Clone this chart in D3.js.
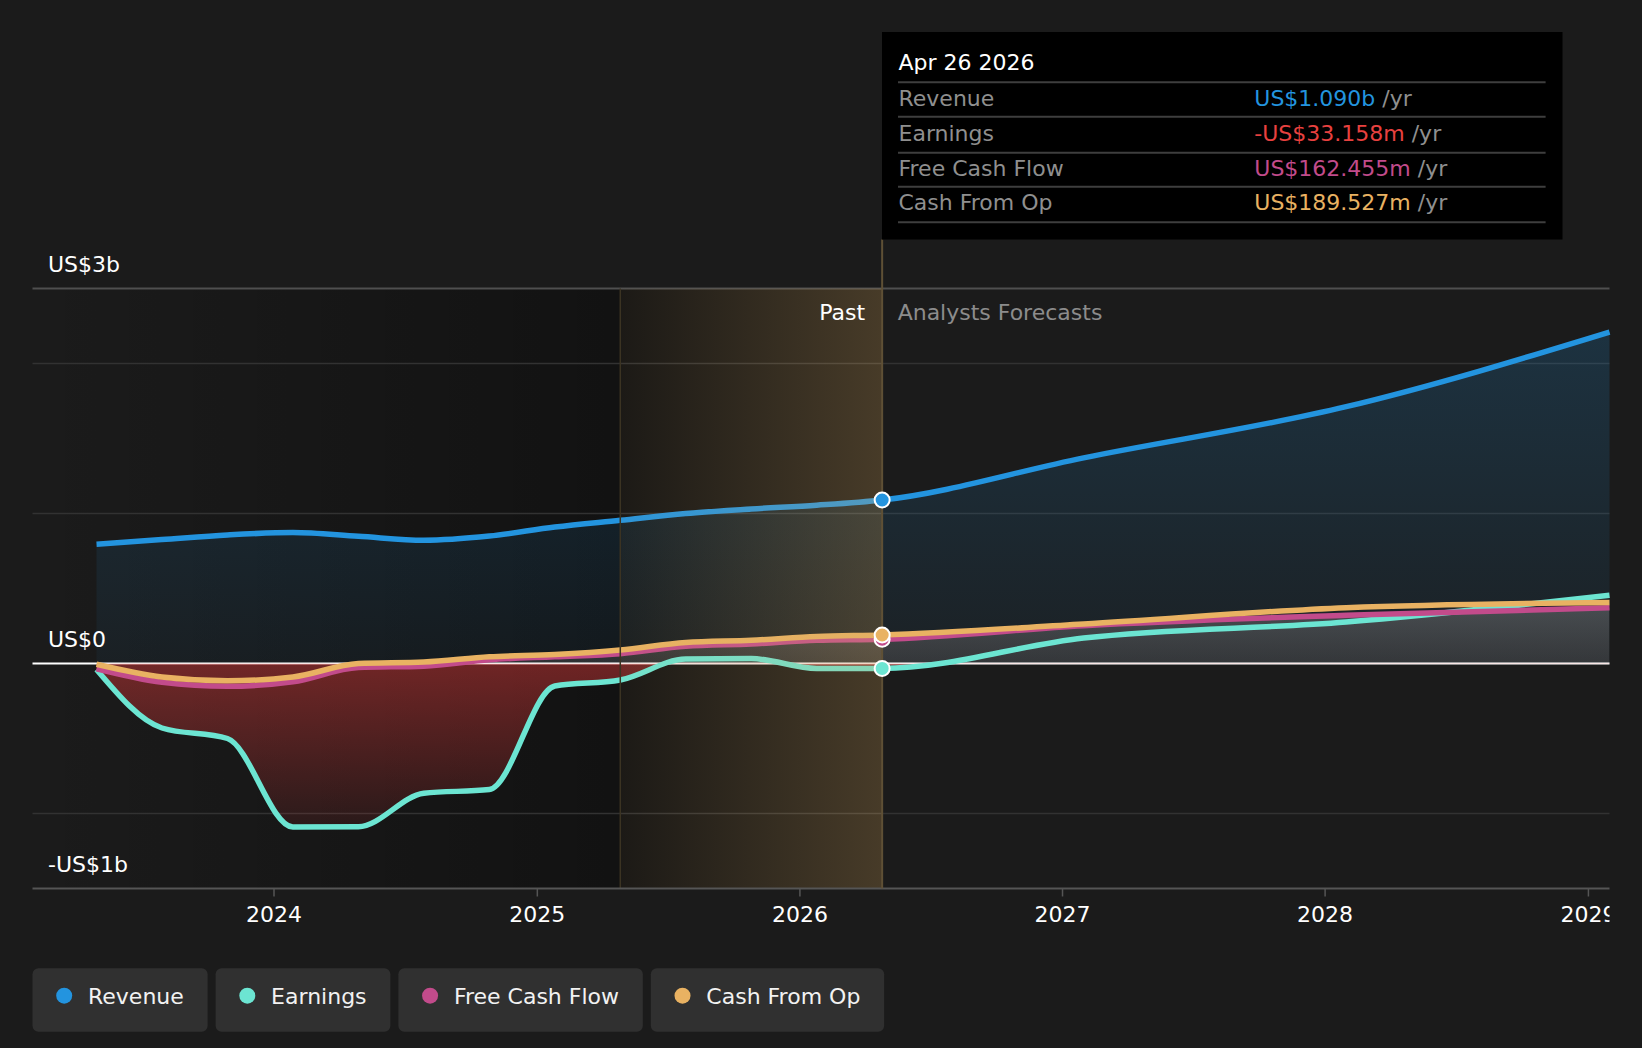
<!DOCTYPE html>
<html><head><meta charset="utf-8">
<script src="https://cdn.jsdelivr.net/npm/d3@7"></script>
<style>
html,body{margin:0;padding:0;background:#1b1b1b;}
svg{display:block;font-family:"DejaVu Sans",sans-serif;}
</style></head><body>
<svg id="chart" width="1642" height="1048"></svg>
<script>
// ---------- data (values in US$ billions) ----------
const pastDates = ["2023-04-30","2023-07-30","2023-10-29","2024-01-28","2024-04-28","2024-07-28","2024-10-27","2025-01-26","2025-04-27","2025-07-27","2025-10-26","2026-01-25","2026-04-26"];
const forecastDates = ["2027-01-31","2028-01-31","2029-01-31"];
const revenuePast = [0.795,0.826,0.857,0.873,0.848,0.822,0.850,0.910,0.955,1.000,1.030,1.055,1.090];
const revenueForecast = [1.371,1.712,2.210];
const earningsPast = [-0.040,-0.430,-0.500,-1.090,-1.088,-0.865,-0.840,-0.150,-0.110,0.030,0.033,-0.033,-0.033];
const earningsForecast = [0.170,0.277,0.455];
const fcfPast = [-0.035,-0.125,-0.152,-0.122,-0.027,-0.018,0.025,0.045,0.065,0.115,0.130,0.155,0.162];
const fcfForecast = [0.252,0.322,0.371];
const cfoPast = [-0.005,-0.090,-0.115,-0.090,0.000,0.010,0.045,0.060,0.090,0.140,0.155,0.180,0.190];
const cfoForecast = [0.263,0.372,0.407];

const seriesNames = ["Revenue","Earnings","Free Cash Flow","Cash From Op"];
const seriesColors = ["#2394df","#6ce5d2","#c24b8b","#e9b262"];

const yLabelValues = [2.5, 0, -1.5];
const yLabelTexts = ["US$3b","US$0","-US$1b"];
const gridValues = [2, 1, -1];
const xTickYears = [2024,2025,2026,2027,2028,2029];

const domainStart = "2023-01-31", domainEnd = "2029-01-31";
const highlightStart = "2025-04-27";
const presentDate = "2026-04-26";

const tooltipDate = "Apr 26 2026";
const tooltipLabels = ["Revenue","Earnings","Free Cash Flow","Cash From Op"];
const tooltipValues = ["US$1.090b","-US$33.158m","US$162.455m","US$189.527m"];
const tooltipValueColors = ["#2394df","#e8413f","#c24b8b","#e9b262"];

// ---------- setup ----------
const FONT = 22;
const svg = d3.select("#chart");
const M = {left:32.5, right:1609.5, top:288.5, bottom:888.5};
const parse = d3.utcParse("%Y-%m-%d");
const x = d3.scaleUtc().domain([parse(domainStart), parse(domainEnd)]).range([M.left, M.right]);
const y = d3.scaleLinear().domain([-1.5, 2.5]).range([M.bottom, M.top]);

const allDates = [...pastDates, ...forecastDates].map(parse);
function build(p, f){ return allDates.map((d,i)=>({d, v: i < p.length ? p[i] : f[i-p.length]})); }
const revenue = build(revenuePast, revenueForecast);
const earnings = build(earningsPast, earningsForecast);
const fcf = build(fcfPast, fcfForecast);
const cfo = build(cfoPast, cfoForecast);
const seriesData = [revenue, earnings, fcf, cfo];

const xHL = x(parse(highlightStart));
const xNow = x(parse(presentDate));

// ---------- defs ----------
const defs = svg.append("defs");
function lg(id, attrs, stops){
  const g = defs.append("linearGradient").attr("id", id).attr("gradientUnits","userSpaceOnUse");
  Object.entries(attrs).forEach(([k,v])=>g.attr(k,v));
  stops.forEach(s=>g.append("stop").attr("offset",s[0]).attr("stop-color",s[1]).attr("stop-opacity",s[2]));
}
lg("pastShade",{x1:M.left,x2:xHL,y1:0,y2:0},[[0,"#000",0],[1,"#000",0.34]]);
lg("hlGrad",{x1:xHL,x2:xNow,y1:0,y2:0},[[0,"rgb(215,170,100)",0.05],[1,"rgb(215,170,100)",0.27]]);
lg("revGrad",{x1:0,x2:0,y1:y(2.5),y2:y(0)},[[0,"#2394df",0.21],[1,"#2394df",0.05]]);
lg("redGrad",{x1:0,x2:0,y1:y(0),y2:y(-1.1)},[[0,"rgb(210,55,55)",0.48],[1,"rgb(210,55,55)",0.1]]);
lg("grayGrad",{x1:0,x2:0,y1:y(0.42),y2:y(0)},[[0,"rgb(150,150,150)",0.38],[1,"rgb(150,140,140)",0.2]]);
defs.append("clipPath").attr("id","belowZero").append("rect")
  .attr("x",M.left).attr("y",y(0)).attr("width",M.right-M.left).attr("height",M.bottom-y(0));
defs.append("clipPath").attr("id","aboveZero").append("rect")
  .attr("x",M.left).attr("y",M.top).attr("width",M.right-M.left).attr("height",y(0)-M.top);
defs.append("clipPath").attr("id","plotX").append("rect")
  .attr("x",0).attr("y",0).attr("width",M.right).attr("height",1048);

// ---------- background ----------
svg.append("rect").attr("width",1642).attr("height",1048).attr("fill","#1b1b1b");
svg.append("rect").attr("x",M.left).attr("y",M.top).attr("width",xNow-M.left).attr("height",M.bottom-M.top)
  .attr("fill","url(#pastShade)");

// gridlines
svg.append("g").selectAll("line").data(gridValues).join("line")
  .attr("x1",M.left).attr("x2",M.right).attr("y1",d=>y(d)).attr("y2",d=>y(d))
  .attr("stroke","#323232").attr("stroke-width",1.3);
svg.append("line").attr("x1",M.left).attr("x2",M.right).attr("y1",y(2.5)).attr("y2",y(2.5))
  .attr("stroke","#4f4f4f").attr("stroke-width",1.8);

// ---------- areas ----------
const curve = d3.curveMonotoneX;
const area = d3.area().curve(curve).x(d=>x(d.d)).y0(y(0)).y1(d=>y(d.v));
svg.append("path").datum(revenue).attr("d",area).attr("fill","url(#revGrad)");
svg.append("path").datum(fcf).attr("d",area).attr("fill","url(#grayGrad)").attr("clip-path","url(#aboveZero)");

// zero line
svg.append("line").attr("x1",M.left).attr("x2",M.right).attr("y1",y(0)).attr("y2",y(0))
  .attr("stroke","#ffffff").attr("stroke-width",2);

svg.append("path").datum(earnings).attr("d",area).attr("fill","url(#redGrad)").attr("clip-path","url(#belowZero)");

// ---------- lines ----------
const line = d3.line().curve(curve).x(d=>x(d.d)).y(d=>y(d.v));
svg.append("g").selectAll("path").data(seriesData).join("path")
  .attr("d",line).attr("fill","none")
  .attr("stroke",(d,i)=>seriesColors[i]).attr("stroke-width",5.5);

// highlight overlay
svg.append("rect").attr("x",xHL).attr("y",M.top).attr("width",xNow-xHL).attr("height",M.bottom-M.top)
  .attr("fill","url(#hlGrad)");
svg.append("line").attr("x1",xHL).attr("x2",xHL).attr("y1",M.top).attr("y2",M.bottom)
  .attr("stroke","#3b3322").attr("stroke-width",1.5);

// bottom axis line
svg.append("line").attr("x1",M.left).attr("x2",M.right).attr("y1",M.bottom).attr("y2",M.bottom)
  .attr("stroke","#555").attr("stroke-width",2);

// present line
svg.append("line").attr("x1",xNow).attr("x2",xNow).attr("y1",239.5).attr("y2",M.bottom)
  .attr("stroke","#5f5035").attr("stroke-width",2);

// dots at present
const nowIdx = pastDates.length-1;
const dotOrder = [2,3,1,0];
svg.append("g").selectAll("circle").data(dotOrder).join("circle")
  .attr("cx",i=>x(seriesData[i][nowIdx].d)).attr("cy",i=>y(seriesData[i][nowIdx].v))
  .attr("r",7.5).attr("fill",i=>seriesColors[i]).attr("stroke","#fff").attr("stroke-width",2);

// ---------- axes & labels ----------
const xAxis = d3.axisBottom(x)
  .tickValues(xTickYears.map(yv=>new Date(Date.UTC(yv,0,1))))
  .tickFormat(d3.utcFormat("%Y")).tickSize(8).tickPadding(14);
const gx = svg.append("g").attr("transform",`translate(0,${M.bottom})`).attr("clip-path","url(#plotX)").call(xAxis);
gx.select(".domain").remove();
gx.selectAll(".tick line").attr("stroke","#555").attr("stroke-width",1.5);
gx.selectAll(".tick text").attr("fill","#fff").attr("font-size",FONT).attr("font-family","DejaVu Sans")
  .attr("dy",null).attr("y",33);

svg.append("g").selectAll("text").data(yLabelValues).join("text")
  .attr("x",48).attr("y",d=>y(d)-17).attr("fill","#fff").attr("font-size",FONT)
  .text((d,i)=>yLabelTexts[i]);

svg.append("text").attr("x",xNow-17).attr("y",320).attr("text-anchor","end")
  .attr("fill","#fff").attr("font-size",FONT).text("Past");
svg.append("text").attr("x",xNow+15.5).attr("y",320)
  .attr("fill","#8c8c8c").attr("font-size",FONT).text("Analysts Forecasts");

// ---------- tooltip ----------
const tt = svg.append("g");
tt.append("rect").attr("x",882).attr("y",32).attr("width",680.5).attr("height",207.5).attr("fill","#000");
tt.append("text").attr("x",898.5).attr("y",70).attr("fill","#fff").attr("font-size",FONT).text(tooltipDate);
const sepY = [82.3,116.7,152.7,186.7,222.3];
tt.selectAll("line").data(sepY).join("line")
  .attr("x1",898).attr("x2",1545.6).attr("y1",d=>d).attr("y2",d=>d)
  .attr("stroke","#3e3e3e").attr("stroke-width",2);
const rowY = [106,140.5,175.7,210];
tooltipLabels.forEach((lab,i)=>{
  tt.append("text").attr("x",898.5).attr("y",rowY[i]).attr("fill","#8f8f8f").attr("font-size",FONT).text(lab);
  const t = tt.append("text").attr("x",1254.3).attr("y",rowY[i]).attr("font-size",FONT);
  t.append("tspan").attr("fill",tooltipValueColors[i]).text(tooltipValues[i]);
  t.append("tspan").attr("fill","#8f8f8f").text(" /yr");
});

// ---------- legend ----------
const lgG = svg.append("g");
let lx = 32.5;
seriesNames.forEach((name,i)=>{
  const g = lgG.append("g").attr("transform",`translate(${lx},968.3)`);
  const rect = g.append("rect").attr("height",63.4).attr("rx",6).attr("fill","#303030");
  g.append("circle").attr("cx",31.7).attr("cy",27.4).attr("r",8).attr("fill",seriesColors[i]);
  const t = g.append("text").attr("x",55.5).attr("y",35.7).attr("fill","#f2f2f2").attr("font-size",FONT).text(name);
  const w = 55.5 + t.node().getComputedTextLength() + 23.8;
  rect.attr("width",w);
  lx += w + 8;
});
</script>
</body></html>
